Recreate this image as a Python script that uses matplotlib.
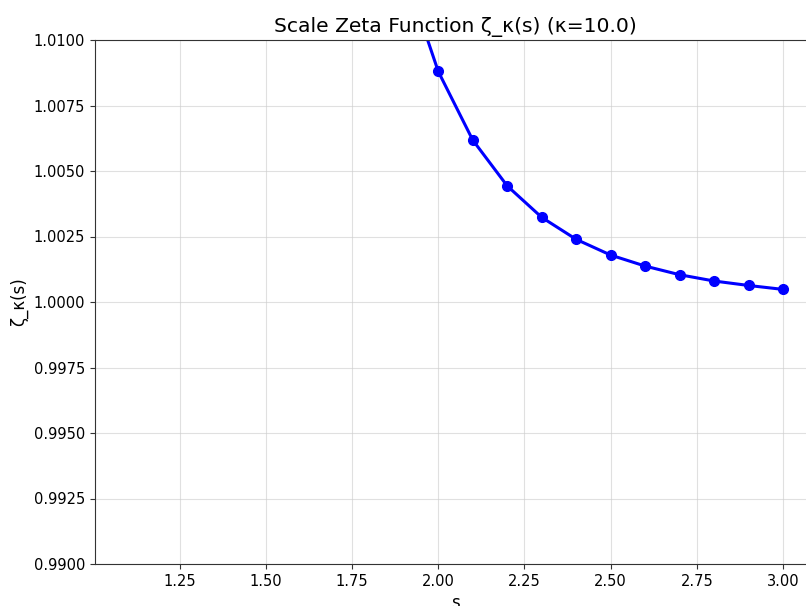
import matplotlib
matplotlib.use("Agg")
import matplotlib.pyplot as plt

s_values = [1.1, 1.2, 1.3, 1.4, 1.5, 1.6, 1.7, 1.8, 1.9, 2.0,
            2.1, 2.2, 2.3, 2.4, 2.5, 2.6, 2.7, 2.8, 2.9, 3.0]
zeta_values = [1.32, 1.20, 1.13, 1.085, 1.057, 1.039, 1.0265, 1.0183, 1.0127, 1.00880,
               1.00618, 1.00443, 1.00323, 1.00239, 1.00179, 1.00137, 1.00104, 1.00080, 1.00063, 1.00048]
y_ticks = [0.9900, 0.9925, 0.9950, 0.9975, 1.0000, 1.0025, 1.0050, 1.0075, 1.0100]
x_ticks = [1.25, 1.50, 1.75, 2.00, 2.25, 2.50, 2.75, 3.00]

W, H = 806, 606
fig = plt.figure(figsize=(W / 100, H / 100), dpi=100)
ax = fig.add_axes([95 / W, (H - 564) / H, (816 - 95) / W, (564 - 40) / H])

ax.plot(s_values, zeta_values, color="#0000ff", linewidth=2.2, marker="o", markersize=7)
ax.set_ylim(0.99, 1.01)
ax.set_xlim(1.005, 3.095)
ax.set_yticks(y_ticks)
ax.set_yticklabels([f"{v:.4f}" for v in y_ticks])
ax.set_xticks(x_ticks)
ax.set_xticklabels([f"{v:.2f}" for v in x_ticks])
ax.tick_params(labelsize=10.5, color="#333333")
for sp in ax.spines.values():
    sp.set_color("#333333")
ax.grid(True, color="#cccccc", alpha=0.6, linewidth=0.8)
ax.set_title("Scale Zeta Function ζ_κ(s) (κ=10.0)", fontsize=14.6, pad=6)
ax.set_xlabel("s", fontsize=12)
ax.set_ylabel("ζ_κ(s)", fontsize=12)

fig.savefig("out.png", dpi=100)
